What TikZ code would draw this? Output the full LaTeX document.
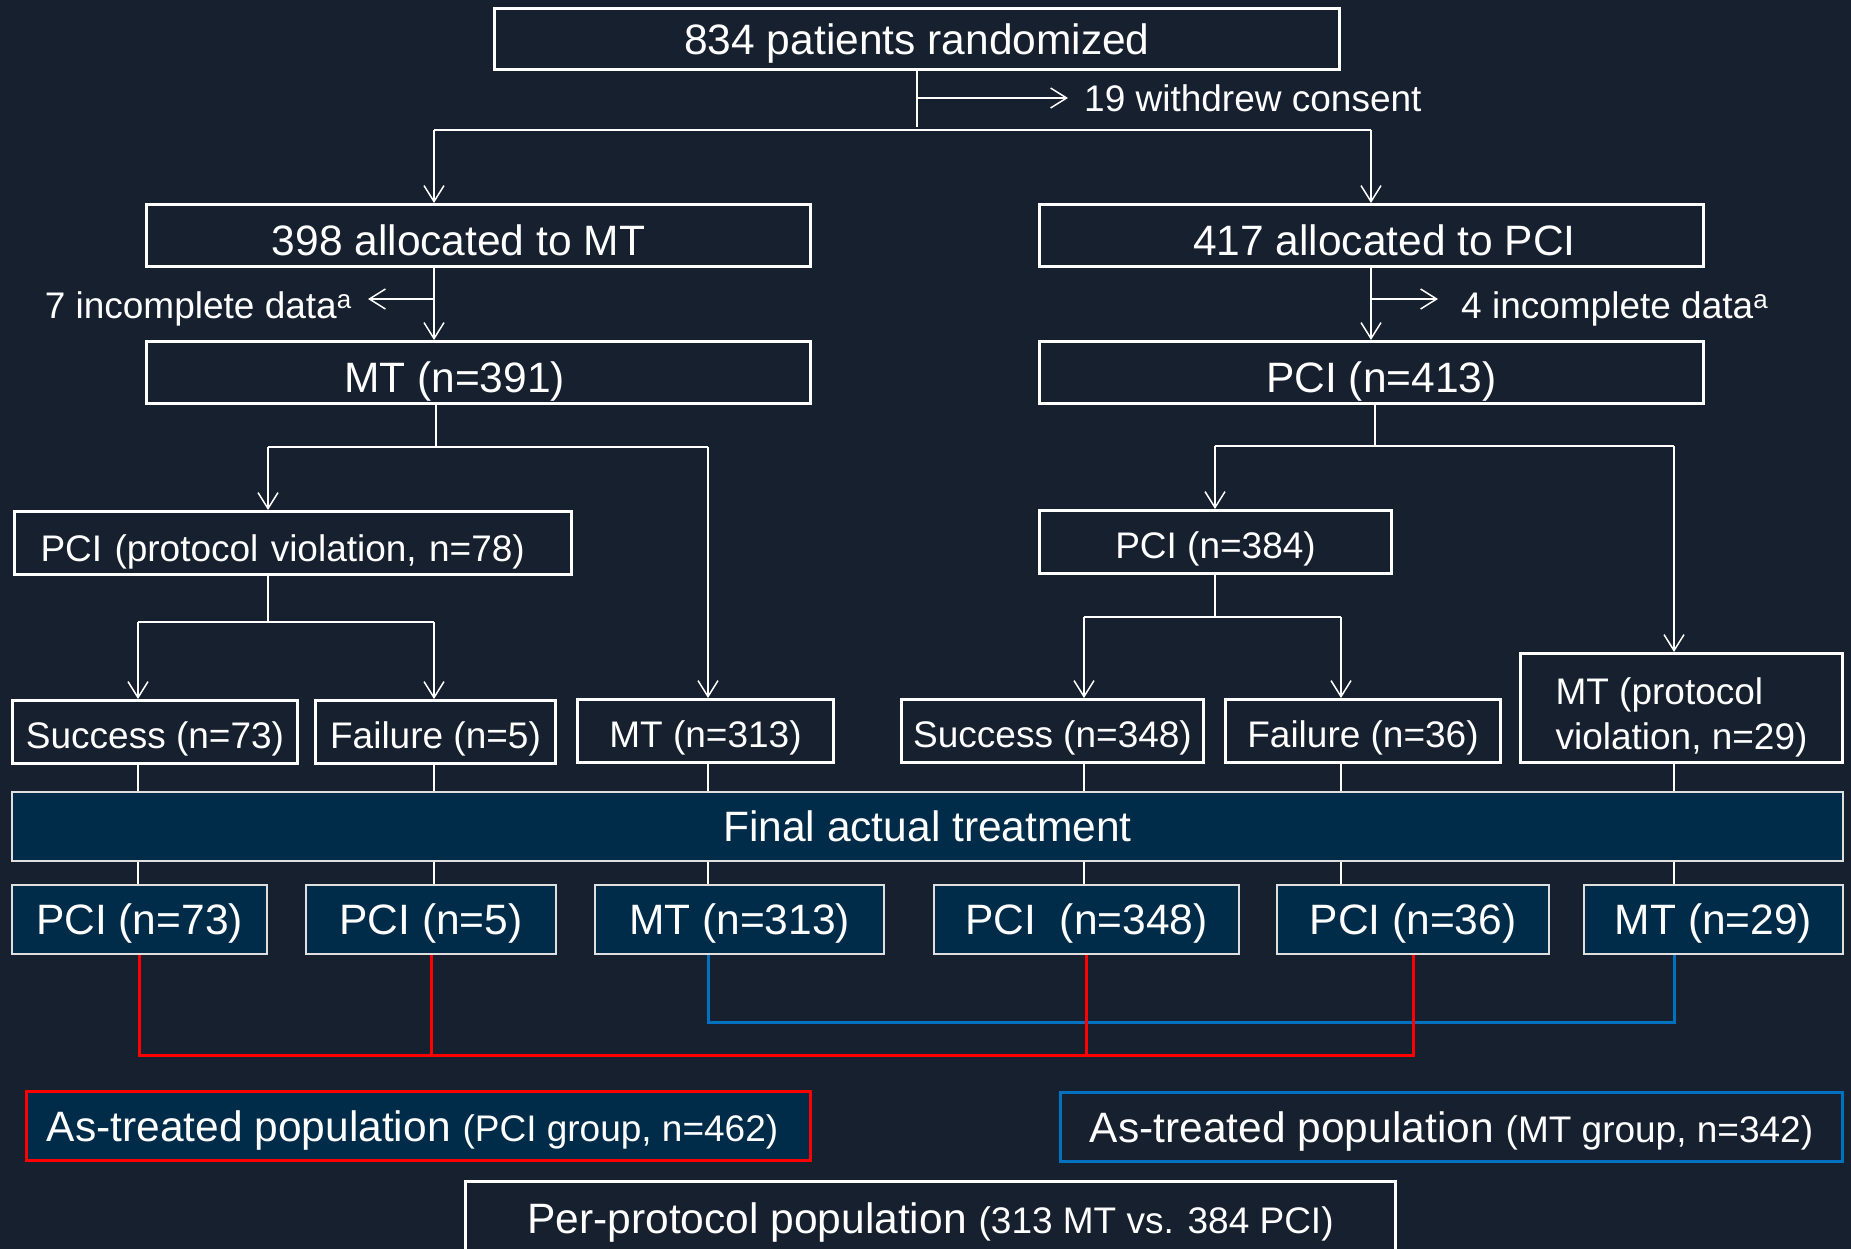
\documentclass[tikz,border=0pt]{standalone}
\usepackage{fontspec}
\setmainfont{Liberation Sans}
\usetikzlibrary{arrows.meta,calc}
\definecolor{bgc}{RGB}{23,32,46}
\definecolor{bandc}{RGB}{0,43,73}
\definecolor{redl}{RGB}{255,0,0}
\definecolor{bluel}{RGB}{0,112,192}
\newcommand{\fsL}{\fontsize{42.5}{50}\selectfont}
\newcommand{\fsS}{\fontsize{37}{45}\selectfont}
\begin{document}
\begin{tikzpicture}[x=1pt,y=-1pt,
  wbox/.style={draw=white, line width=3pt, text=white, inner sep=0pt, font=\fsS, minimum height=63pt, text height=32pt, text depth=0pt},
  wboxL/.style={wbox, font=\fsL, text height=40pt, minimum width=664pt, minimum height=62pt},
  bbox/.style={draw=white!75!gray, fill=bandc, line width=1.5pt, text=white, inner sep=0pt, font=\fsL, minimum height=69pt, text height=30.4pt, text depth=0pt},
  popbox/.style={line width=3pt, text=white, inner sep=0pt, minimum height=69pt, text height=30.4pt, text depth=0pt},
  txt/.style={text=white, inner sep=0pt, font=\fsS},
  conn/.style={draw=white, line width=1.5pt},
  arr/.style={conn, -{Straight Barb[length=16pt,width=20pt]}},
  redline/.style={draw=redl, line width=3pt},
  blueline/.style={draw=bluel, line width=3pt}]
\useasboundingbox (0,0) rectangle (1851,1249);
\fill[bgc] (0,0) rectangle (1851,1249);
\clip (0,0) rectangle (1851,1249);

% top levels
\node[wboxL, text height=30.4pt, minimum width=845pt, minimum height=61pt] (top) at (917,39) {834 patients randomized};
\node[wboxL] (mtalloc) at (478.5,235.5) {\hspace*{-40pt}398 allocated to MT};
\node[wboxL] (pcialloc) at (1371.5,235.5) {\hspace*{26pt}417 allocated to PCI};
\node[wboxL] (mt391) at (478.5,372.5) {\hspace*{-48pt}MT (n=391)};
\node[wboxL] (pci413) at (1371.5,372.5) {\hspace*{20pt}PCI (n=413)};

\node[txt, anchor=base west] (wd) at (1084,112) {19 withdrew consent};
\node[txt, anchor=base east] (inc7) at (352,318) {7 incomplete data\textsuperscript{a}};
\node[txt, anchor=base west] (inc4) at (1461,318) {4 incomplete data\textsuperscript{a}};

% second level
\node[wbox, text height=36pt, minimum width=557pt, text width=505pt, align=left, inner xsep=26pt] (pv78) at (293,543) {PCI (protocol violation, n=78)};
\node[wbox, minimum width=352pt] (pci384) at (1215.5,542) {PCI (n=384)};

% middle row
\node[wbox, minimum width=285pt] (suc73) at (155,732) {Success (n=73)};
\node[wbox, minimum width=240pt] (fail5) at (435.5,732) {Failure (n=5)};
\node[wbox, minimum width=256pt] (mt313) at (705.5,731) {MT (n=313)};
\node[wbox, minimum width=302pt] (suc348) at (1052.5,731) {Success (n=348)};
\node[wbox, minimum width=275pt] (fail36) at (1363,731) {Failure (n=36)};
\node[draw=white, line width=3pt, text=white, inner sep=0pt, font=\fsS, minimum width=322pt, minimum height=109pt, align=left] (mtpv29) at (1681.5,708) {\rule{0pt}{45pt}MT (protocol\\violation, n=29)};

% band
\node[bbox, minimum width=1831pt] (band) at (927.5,826.5) {Final actual treatment};

% bottom row
\node[bbox, minimum width=255pt] (b1) at (139.5,919.5) {PCI (n=73)};
\node[bbox, minimum width=250pt] (b2) at (431,919.5) {PCI (n=5)};
\node[bbox, minimum width=289pt] (b3) at (739.5,919.5) {MT (n=313)};
\node[bbox, minimum width=305pt] (b4) at (1086.5,919.5) {PCI\ \ (n=348)};
\node[bbox, minimum width=272pt] (b5) at (1413,919.5) {PCI (n=36)};
\node[bbox, minimum width=259pt] (b6) at (1713.5,919.5) {MT (n=29)};

% populations
\node[popbox, draw=redl, fill=bandc, minimum width=784pt] (atpci) at (418.5,1126) {\fsL\hspace*{-12pt}As-treated population {\fsS(PCI group, n=462)}};
\node[popbox, draw=bluel, fill=bgc, minimum width=782pt] (atmt) at (1451.5,1127) {\fsL As-treated population {\fsS(MT group, n=342)}};
\node[popbox, draw=white, fill=bgc, minimum width=930pt, minimum height=73pt] (pp) at (930.5,1218) {\fsL Per-protocol population {\fsS(313 MT vs. 384 PCI)}};

% coordinates
\coordinate (j1) at (917,130);
\coordinate (w1) at (917,98);
\coordinate (jL) at (434,130);
\coordinate (jR) at (1371,130);
\coordinate (i1) at (434,299);
\coordinate (i2) at (1371,299);
\coordinate (j3) at (436,447);
\coordinate (j3L) at (268,447);
\coordinate (j3R) at (708,447);
\coordinate (j4) at (268,622);
\coordinate (j4L) at (138,622);
\coordinate (j4R) at (434,622);
\coordinate (j5) at (1375,446);
\coordinate (j5L) at (1215,446);
\coordinate (j5R) at (1674,446);
\coordinate (j6) at (1215,617);
\coordinate (j6L) at (1084,617);
\coordinate (j6R) at (1341,617);
\coordinate (c1) at (138,0);
\coordinate (c2) at (434,0);
\coordinate (c3) at (708,0);
\coordinate (c4) at (1084,0);
\coordinate (c5) at (1341,0);
\coordinate (c6) at (1674,0);
\coordinate (ry) at (0,1055);
\coordinate (by) at (0,1022);

% top connectors
\draw[conn] (top.south) -- ([yshift=3pt]j1);
\draw[arr, shorten >=16pt] (w1) -- (w1 -| wd.west);
\draw[conn] (jL) -- (jR);
\draw[arr] (jL) -- (jL |- mtalloc.north);
\draw[arr] (jR) -- (jR |- pcialloc.north);
\draw[arr] (i1 |- mtalloc.south) -- (i1 |- mt391.north);
\draw[arr, shorten >=16pt] (i1) -- (i1 -| inc7.east);
\draw[arr] (i2 |- pcialloc.south) -- (i2 |- pci413.north);
\draw[arr, shorten >=23pt] (i2) -- (i2 -| inc4.west);

% MT branch
\draw[conn] (j3 |- mt391.south) -- (j3);
\draw[conn] (j3L) -- (j3R);
\draw[arr] (j3L) -- (j3L |- pv78.north);
\draw[arr] (j3R) -- (j3R |- mt313.north);
\draw[conn] (j4 |- pv78.south) -- (j4);
\draw[conn] (j4L) -- (j4R);
\draw[arr] (j4L) -- (j4L |- suc73.north);
\draw[arr] (j4R) -- (j4R |- fail5.north);

% PCI branch
\draw[conn] (j5 |- pci413.south) -- (j5);
\draw[conn] (j5L) -- (j5R);
\draw[arr] (j5L) -- (j5L |- pci384.north);
\draw[arr] (j5R) -- (j5R |- mtpv29.north);
\draw[conn] (j6 |- pci384.south) -- (j6);
\draw[conn] (j6L) -- (j6R);
\draw[arr] (j6L) -- (j6L |- suc348.north);
\draw[arr] (j6R) -- (j6R |- fail36.north);

% to band and bottom row
\draw[conn] (c1 |- suc73.south) -- (c1 |- band.north);
\draw[conn] (c2 |- fail5.south) -- (c2 |- band.north);
\draw[conn] (c3 |- mt313.south) -- (c3 |- band.north);
\draw[conn] (c4 |- suc348.south) -- (c4 |- band.north);
\draw[conn] (c5 |- fail36.south) -- (c5 |- band.north);
\draw[conn] (c6 |- mtpv29.south) -- (c6 |- band.north);
\draw[conn] (c1 |- band.south) -- (c1 |- b1.north);
\draw[conn] (c2 |- band.south) -- (c2 |- b2.north);
\draw[conn] (c3 |- band.south) -- (c3 |- b3.north);
\draw[conn] (c4 |- band.south) -- (c4 |- b4.north);
\draw[conn] (c5 |- band.south) -- (c5 |- b5.north);
\draw[conn] (c6 |- band.south) -- (c6 |- b6.north);

% blue and red groupings
\draw[blueline] (c3 |- b3.south) -- (c3 |- by) -- (c6 |- by) -- (c6 |- b6.south);
\draw[redline] (b1.south) -- (b1.south |- ry) -- (b5.south |- ry) -- (b5.south);
\draw[redline] (b2.south) -- (b2.south |- ry);
\draw[redline] (b4.south) -- (b4.south |- ry);
\end{tikzpicture}
\end{document}
